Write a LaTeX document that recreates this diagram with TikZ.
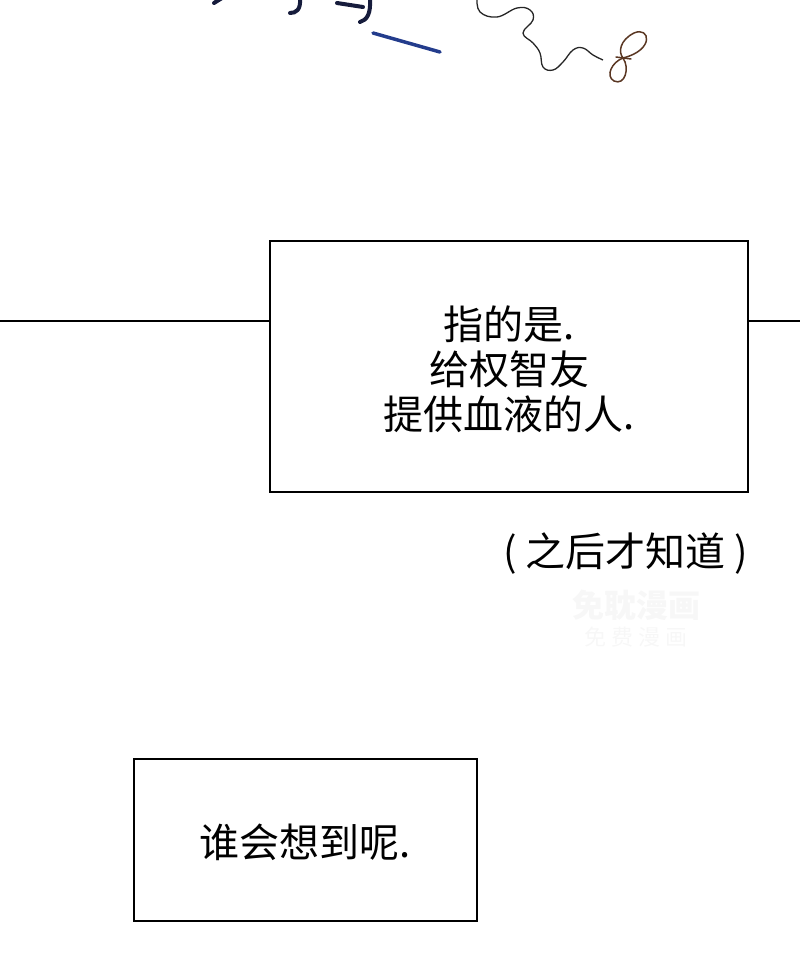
\documentclass[tikz,border=0pt]{standalone}
\usepackage{fontspec}
\newfontfamily\cjk{Noto Sans CJK SC}
\usetikzlibrary{positioning}
\definecolor{navyink}{RGB}{22,28,60}
\definecolor{blueink}{RGB}{35,60,140}
\definecolor{brownink}{RGB}{90,55,35}

\begin{document}
\begin{tikzpicture}[x=1pt,y=-1pt,
		panelbox/.style={draw,line width=1.2pt,inner sep=0pt},
		speech/.style={font=\cjk\fontsize{40}{45}\selectfont,align=center},
		ink/.style={line width=4pt,line cap=round,color=navyink},
		pen/.style={line width=1.5pt,line cap=round,color=brownink}]
		\useasboundingbox (0,0) rectangle (800,975);
		%draw boxes
		\node[panelbox,minimum width=478pt,minimum height=251pt] (box1) at (509,366.5) {};
		\node[panelbox,minimum width=343pt,minimum height=162pt] (box2) at (305.5,840) {};
		%draw texts
		\node[speech] (txt1) at ([yshift=-3pt]box1.center) {指的是.\\给权智友\\提供血液的人.};
		\node[speech] (txt2) at ([yshift=-2pt]box2.center) {谁会想到呢.};
		\node[speech,anchor=east] (note) at (752,554) {( 之后才知道 )};
		\node[font=\cjk\bfseries\itshape\fontsize{32}{32}\selectfont,text=black!3] (wm1) at (636,605) {免耽漫画};
		\node[font=\cjk\fontsize{22}{22}\selectfont,text=black!3,below=0pt of wm1] (wm2) {免 费 漫 画};
		%draw horizontal line
		\coordinate (lend) at (0,321);
		\coordinate (rend) at (800,321);
		\draw[line width=1.6pt] (lend) -- (box1.west |- lend);
		\draw[line width=1.6pt] (box1.east |- rend) -- (rend);
		%draw handwriting
		\draw[ink] (214,3) -- (222,-2);
		\draw[ink] (300,-2) .. controls (301,10) and (296,13) .. (290,13);
		\draw[ink] (337,3) -- (363,7);
		\draw[ink] (370,-2) .. controls (371,14) and (367,20) .. (360,22);
		\draw[ink,line width=3.5pt,color=blueink] (373,33) -- (440,52);
		\draw[line width=1.3pt,color=black!85] plot[smooth,tension=0.7] coordinates {(477,-2) (480,12) (497,17) (517,8) (530,10) (533,20) (523,33) (533,43) (540,53) (543,67) (553,70) (563,62) (573,50) (583,48) (593,55) (603,60)};
		\draw[pen] (623,58) .. controls (655,50) and (650,26) .. (634,33) .. controls (620,40) and (618,52) .. (623,58) .. controls (630,68) and (625,86) .. (614,81) .. controls (605,76) and (612,62) .. (623,58);
		\draw[pen] (616,57) -- (631,59);
\end{tikzpicture}
\end{document}
